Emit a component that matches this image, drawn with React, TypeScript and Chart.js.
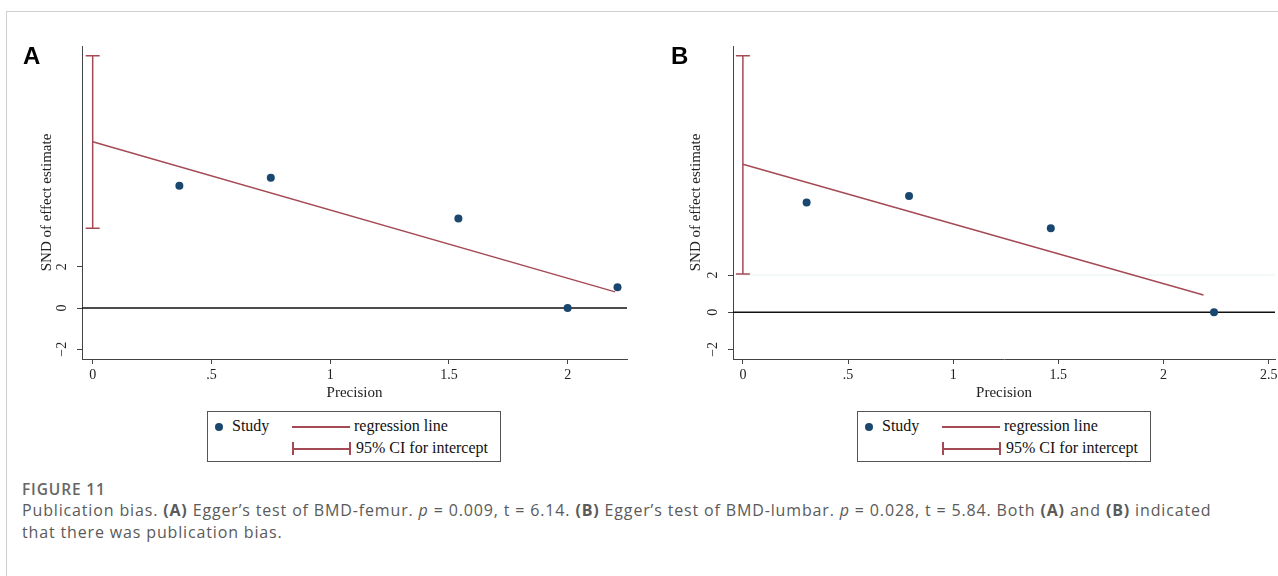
import React, { useEffect, useRef } from "react";
import { Chart, registerables } from "chart.js";

Chart.register(...registerables);

// ---------- data ----------
const precisionA = [0.365, 0.75, 1.54, 2.0, 2.21];
const sndA = [5.92, 6.31, 4.34, 0.0, 1.0];
const regXA = [0, 2.2];
const regYA = [8.05, 0.78];
const ciA = [3.86, 12.22];

const precisionB = [0.303, 0.79, 1.464, 2.24];
const sndB = [5.91, 6.25, 4.52, 0.0];
const regXB = [0, 2.19];
const regYB = [7.96, 0.93];
const ciB = [2.06, 13.8];

const xTicksA = [0, 0.5, 1, 1.5, 2];
const xTickLabelsA = ["0", ".5", "1", "1.5", "2"];
const xTicksB = [0, 0.5, 1, 1.5, 2, 2.5];
const xTickLabelsB = ["0", ".5", "1", "1.5", "2", "2.5"];
const yTicks = [-2, 0, 2];
const yTickLabels = ["\u22122", "0", "2"];

const xRangeA = [-0.045, 2.25];
const yRangeA = [-2.47, 12.69];
const xRangeB = [-0.047, 2.53];
const yRangeB = [-2.52, 14.33];

// ---------- styles ----------
const CRAN = "#a54a55";
const NAVY = "#1a476f";
const AXIS = "#444";
const SERIF = "'Liberation Serif', 'Times New Roman', serif";

type PanelCfg = {
  id: string;
  px: number[];
  py: number[];
  regX: number[];
  regY: number[];
  ci: number[];
  xTicks: number[];
  xLabels: string[];
  xRange: number[];
  yRange: number[];
  yAxisWidth: number;
  padRight: number;
  titlePad: number;
  faintY?: number;
};

function makeChart(canvas: HTMLCanvasElement, p: PanelCfg) {
  const plugin = {
    id: "egger" + p.id,
    beforeDatasetsDraw(chart: any) {
      const { ctx, chartArea, scales } = chart;
      const xs = scales.x;
      const ys = scales.y;
      ctx.save();
      if (p.faintY !== undefined) {
        const yf = ys.getPixelForValue(p.faintY);
        ctx.strokeStyle = "#e6f2f2";
        ctx.lineWidth = 1;
        ctx.beginPath();
        ctx.moveTo(xs.getPixelForValue(0), yf);
        ctx.lineTo(chartArea.right, yf);
        ctx.stroke();
      }
      const y0 = ys.getPixelForValue(0);
      ctx.strokeStyle = "#111";
      ctx.lineWidth = 1.5;
      ctx.beginPath();
      ctx.moveTo(chartArea.left, y0);
      ctx.lineTo(chartArea.right, y0);
      ctx.stroke();
      const cx = xs.getPixelForValue(0);
      const lo = ys.getPixelForValue(p.ci[0]);
      const hi = ys.getPixelForValue(p.ci[1]);
      ctx.strokeStyle = CRAN;
      ctx.lineWidth = 1.5;
      ctx.beginPath();
      ctx.moveTo(cx, lo);
      ctx.lineTo(cx, hi);
      ctx.moveTo(cx - 7, lo);
      ctx.lineTo(cx + 7, lo);
      ctx.moveTo(cx - 7, hi);
      ctx.lineTo(cx + 7, hi);
      ctx.stroke();
      ctx.restore();
    },
    afterDraw(chart: any) {
      const { ctx, chartArea, scales } = chart;
      const ys = scales.y;
      ctx.save();
      ctx.fillStyle = "#222";
      ctx.font = `14px ${SERIF}`;
      ctx.textAlign = "center";
      ctx.textBaseline = "middle";
      yTicks.forEach((v, i) => {
        const y = ys.getPixelForValue(v);
        ctx.save();
        ctx.translate(chartArea.left - 20, y);
        ctx.rotate(-Math.PI / 2);
        ctx.fillText(yTickLabels[i], 0, 0);
        ctx.restore();
      });
      ctx.restore();
    },
  };

  return new Chart(canvas, {
    type: "scatter",
    data: {
      datasets: [
        {
          type: "scatter",
          label: "Study",
          data: p.px.map((x, i) => ({ x, y: p.py[i] })),
          pointRadius: 4,
          pointBackgroundColor: NAVY,
          pointBorderColor: NAVY,
          pointBorderWidth: 0,
          order: 2,
        },
        {
          type: "line",
          label: "regression line",
          data: p.regX.map((x, i) => ({ x, y: p.regY[i] })),
          borderColor: CRAN,
          borderWidth: 1.5,
          pointRadius: 0,
          fill: false,
          tension: 0,
          order: 1,
        } as any,
      ],
    },
    options: {
      animation: false,
      responsive: false,
      events: [],
      layout: { padding: { left: 0, top: 46, right: p.padRight, bottom: 0 } },
      plugins: { legend: { display: false }, tooltip: { enabled: false } },
      scales: {
        x: {
          type: "linear",
          min: p.xRange[0],
          max: p.xRange[1],
          afterBuildTicks: (s: any) => {
            s.ticks = p.xTicks.map((v) => ({ value: v }));
          },
          afterFit: (s: any) => {
            s.height = 46;
          },
          ticks: {
            callback: (_v: any, i: number) => p.xLabels[i],
            font: { family: SERIF, size: 14 },
            color: "#222",
            padding: 3,
            maxRotation: 0,
            autoSkip: false,
          },
          grid: { drawOnChartArea: false, drawTicks: true, tickLength: 5, color: AXIS },
          border: { display: true, color: AXIS, width: 1 },
          title: {
            display: true,
            text: "Precision",
            font: { family: SERIF, size: 15 },
            color: "#222",
            padding: { top: 0, bottom: 3 },
          },
        },
        y: {
          type: "linear",
          min: p.yRange[0],
          max: p.yRange[1],
          afterBuildTicks: (s: any) => {
            s.ticks = yTicks.map((v) => ({ value: v }));
          },
          afterFit: (s: any) => {
            s.width = p.yAxisWidth;
          },
          ticks: { display: false },
          grid: { drawOnChartArea: false, drawTicks: true, tickLength: 5, color: AXIS },
          border: { display: true, color: AXIS, width: 1 },
          title: {
            display: true,
            text: "SND of effect estimate",
            font: { family: SERIF, size: 15 },
            color: "#222",
            padding: { top: p.titlePad, bottom: 0 },
          },
        },
      },
    } as any,
    plugins: [plugin],
  });
}

const cfgA: PanelCfg = {
  id: "A",
  px: precisionA,
  py: sndA,
  regX: regXA,
  regY: regYA,
  ci: ciA,
  xTicks: xTicksA,
  xLabels: xTickLabelsA,
  xRange: xRangeA,
  yRange: yRangeA,
  yAxisWidth: 82,
  padRight: 13,
  titlePad: 38,
};

const cfgB: PanelCfg = {
  id: "B",
  px: precisionB,
  py: sndB,
  regX: regXB,
  regY: regYB,
  ci: ciB,
  xTicks: xTicksB,
  xLabels: xTickLabelsB,
  xRange: xRangeB,
  yRange: yRangeB,
  yAxisWidth: 93,
  padRight: 25,
  titlePad: 47,
  faintY: 2,
};

function Legend({ left }: { left: number }) {
  const txt: React.CSSProperties = {
    position: "absolute",
    fontFamily: SERIF,
    fontSize: 16,
    lineHeight: "18px",
    color: "#111",
    whiteSpace: "nowrap",
  };
  return (
    <div
      style={{
        position: "absolute",
        left,
        top: 411,
        width: 292,
        height: 49,
        border: "1px solid #555",
        background: "#fff",
      }}
    >
      <div
        style={{
          position: "absolute",
          left: 7,
          top: 11,
          width: 8,
          height: 8,
          borderRadius: 4,
          background: NAVY,
        }}
      />
      <div style={{ ...txt, left: 24, top: 5 }}>Study</div>
      <div style={{ position: "absolute", left: 84, top: 14, width: 58, height: 1.5, background: CRAN }} />
      <div style={{ ...txt, left: 146, top: 5 }}>regression line</div>
      <div style={{ position: "absolute", left: 84, top: 36, width: 58, height: 1.5, background: CRAN }} />
      <div style={{ position: "absolute", left: 84, top: 30, width: 1.5, height: 13, background: CRAN }} />
      <div style={{ position: "absolute", left: 141, top: 30, width: 1.5, height: 13, background: CRAN }} />
      <div style={{ ...txt, left: 148, top: 27 }}>95% CI for intercept</div>
    </div>
  );
}

export default function App() {
  const refA = useRef<HTMLCanvasElement>(null);
  const refB = useRef<HTMLCanvasElement>(null);

  useEffect(() => {
    const a = makeChart(refA.current!, cfgA);
    const b = makeChart(refB.current!, cfgB);
    return () => {
      a.destroy();
      b.destroy();
    };
  }, []);

  const panelLetter: React.CSSProperties = {
    position: "absolute",
    top: 44,
    fontFamily: "'Liberation Sans', Arial, sans-serif",
    fontWeight: 700,
    fontSize: 24,
    lineHeight: "24px",
    color: "#000",
  };

  const cap: React.CSSProperties = {
    fontFamily: "'Open Sans', 'Noto Sans', sans-serif",
    color: "#5a5a5a",
    whiteSpace: "nowrap",
    letterSpacing: "0.85px",
  };

  return (
    <div style={{ position: "absolute", left: 0, top: 0, width: 1278, height: 576, overflow: "hidden", background: "#fff" }}>
      <div
        style={{
          position: "absolute",
          left: 6,
          top: 11,
          right: 0,
          bottom: 0,
          borderTop: "1px solid #cfcfcf",
          borderLeft: "1px solid #cfcfcf",
        }}
      />
      <div style={{ position: "absolute", left: 0, top: 0, width: 640, height: 405 }}>
        <canvas ref={refA} width={640} height={405} style={{ width: 640, height: 405, display: "block" }} />
      </div>
      <div style={{ position: "absolute", left: 640, top: 0, width: 638, height: 405, overflow: "hidden" }}>
        <canvas ref={refB} width={660} height={405} style={{ width: 660, height: 405, display: "block" }} />
      </div>
      <div style={{ ...panelLetter, left: 23 }}>A</div>
      <div style={{ ...panelLetter, left: 671 }}>B</div>
      <Legend left={207} />
      <Legend left={857} />
      <div style={{ position: "absolute", left: 22, top: 479 }}>
        <div style={{ ...cap, fontSize: 15.5, fontWeight: 600, lineHeight: "20px", color: "#666" }}>FIGURE 11</div>
        <div style={{ ...cap, fontSize: 16, lineHeight: "22px" }}>
          Publication bias. <b>(A)</b> Egger’s test of BMD-femur. <i>p</i> = 0.009, t = 6.14. <b>(B)</b> Egger’s test
          of BMD-lumbar. <i>p</i> = 0.028, t = 5.84. Both <b>(A)</b> and <b>(B)</b> indicated
          <br />
          that there was publication bias.
        </div>
      </div>
    </div>
  );
}
